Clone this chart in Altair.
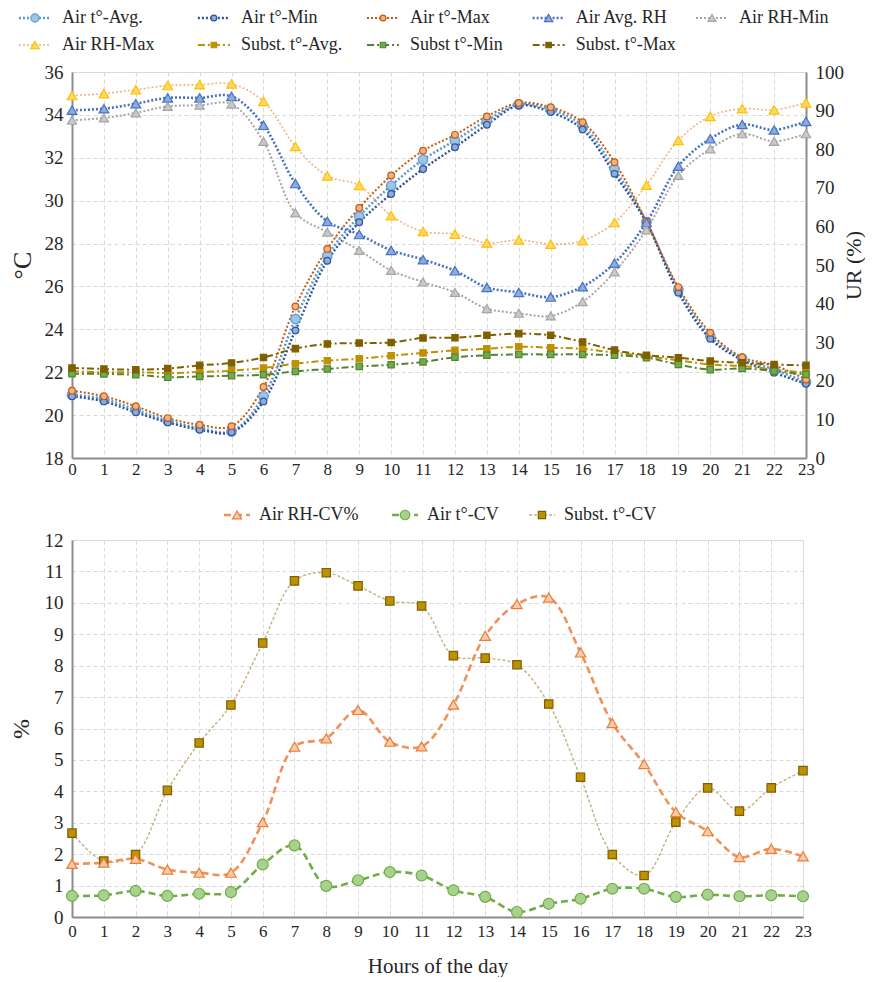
import altair as alt
import pandas as pd

# ---------------- data ----------------
hours = list(range(24))

air_t_avg = [20.95, 20.75, 20.25, 19.74, 19.40, 19.24, 20.88, 24.48, 27.43, 29.27, 30.70, 31.91,
             32.81, 33.74, 34.49, 34.25, 33.50, 31.48, 29.00, 25.84, 23.69, 22.64, 22.13, 21.54]
air_t_min = [20.88, 20.64, 20.13, 19.66, 19.32, 19.20, 20.64, 23.95, 27.20, 28.99, 30.31, 31.48,
             32.49, 33.54, 34.44, 34.13, 33.32, 31.25, 28.98, 25.71, 23.56, 22.57, 21.98, 21.46]
air_t_max = [21.14, 20.88, 20.41, 19.86, 19.55, 19.48, 21.31, 25.07, 27.75, 29.66, 31.17, 32.33,
             33.07, 33.93, 34.56, 34.36, 33.66, 31.79, 29.03, 25.97, 23.84, 22.70, 22.33, 21.66]

air_rh_avg = [90.1, 90.5, 91.8, 93.3, 93.3, 93.7, 86.2, 71.1, 61.3, 57.9, 53.8, 51.4,
              48.5, 44.2, 42.9, 41.7, 44.4, 50.5, 61.0, 75.6, 82.7, 86.4, 85.0, 87.2]
air_rh_min = [87.5, 88.1, 89.4, 91.1, 91.4, 91.7, 82.0, 63.5, 58.5, 53.8, 48.6, 45.6,
              42.9, 38.7, 37.5, 36.8, 40.5, 48.2, 59.1, 73.2, 80.1, 84.0, 82.0, 84.0]
air_rh_max = [93.9, 94.4, 95.4, 96.5, 96.7, 96.9, 92.4, 80.7, 73.1, 70.6, 62.8, 58.7,
              58.0, 55.7, 56.5, 55.4, 56.3, 61.0, 70.7, 82.3, 88.5, 90.5, 90.2, 92.0]

subst_t_avg = [22.04, 22.00, 22.00, 21.96, 22.01, 22.07, 22.20, 22.40, 22.54, 22.63, 22.77, 22.90,
               23.02, 23.09, 23.19, 23.14, 23.09, 22.91, 22.75, 22.55, 22.36, 22.29, 22.12, 21.98]
subst_t_min = [21.93, 21.92, 21.88, 21.77, 21.80, 21.84, 21.88, 22.04, 22.15, 22.27, 22.35, 22.48,
               22.70, 22.79, 22.83, 22.83, 22.83, 22.79, 22.68, 22.36, 22.12, 22.18, 22.05, 21.90]
subst_t_max = [22.20, 22.15, 22.12, 22.17, 22.32, 22.43, 22.69, 23.10, 23.32, 23.36, 23.39, 23.60,
               23.61, 23.72, 23.80, 23.72, 23.41, 23.03, 22.79, 22.68, 22.52, 22.44, 22.36, 22.32]

air_rh_cv = [1.69, 1.73, 1.85, 1.51, 1.41, 1.41, 3.02, 5.42, 5.69, 6.59, 5.58, 5.43,
             6.76, 8.95, 9.96, 10.17, 8.42, 6.17, 4.87, 3.34, 2.73, 1.91, 2.17, 1.93]
air_t_cv = [0.67, 0.69, 0.83, 0.67, 0.74, 0.79, 1.67, 2.28, 0.99, 1.17, 1.43, 1.32,
            0.85, 0.64, 0.16, 0.42, 0.58, 0.90, 0.90, 0.64, 0.71, 0.66, 0.69, 0.66]
subst_t_cv = [2.67, 1.78, 1.99, 4.03, 5.54, 6.75, 8.72, 10.70, 10.96, 10.54, 10.06, 9.90,
              8.32, 8.24, 8.03, 6.78, 4.45, 1.99, 1.32, 3.02, 4.11, 3.37, 4.11, 4.66]

top_temp_labels = ["Air t°-Avg.", "Air t°-Min", "Air t°-Max"]
top_rh_labels = ["Air Avg. RH", "Air RH-Min", "Air RH-Max"]
top_subst_labels = ["Subst. t°-Avg.", "Subst t°-Min", "Subst. t°-Max"]
bottom_labels = ["Air RH-CV%", "Air t°-CV", "Subst. t°-CV"]

temp_ticks = [18, 20, 22, 24, 26, 28, 30, 32, 34, 36]
rh_ticks = [0, 10, 20, 30, 40, 50, 60, 70, 80, 90, 100]
cv_ticks = list(range(0, 13))

# ---------------- styles ----------------
FONT = "Liberation Serif"
GRID = "#D9D9D9"
AXIS = "#8C8C8C"
TXT = "#262626"
TOP_W, TOP_H = 734, 386
BOT_W, BOT_H = 731, 377

DOT = [2, 2]
DASHDOT = [7, 3, 2, 3]
DASH = [7, 4]

STYLE = {
    "Air t°-Avg.": dict(line="#5B9BD5", dash=DOT, width=2.6, shape="circle", fill="#9DC3E6", edge="#5B9BD5", size=90),
    "Air t°-Min": dict(line="#2F5597", dash=DOT, width=2.4, shape="circle", fill="#8FAADC", edge="#2F5597", size=45),
    "Air t°-Max": dict(line="#C55A11", dash=DOT, width=2.0, shape="circle", fill="#F4B183", edge="#C55A11", size=45),
    "Air Avg. RH": dict(line="#4472C4", dash=DOT, width=2.6, shape="triangle-up", fill="#8FAADC", edge="#4472C4", size=95),
    "Air RH-Min": dict(line="#A5A5A5", dash=DOT, width=2.0, shape="triangle-up", fill="#C9C9C9", edge="#A5A5A5", size=85),
    "Air RH-Max": dict(line="#F4B183", dash=DOT, width=1.6, shape="triangle-up", fill="#FFD966", edge="#FFC000", size=95),
    "Subst. t°-Avg.": dict(line="#BF9000", dash=DASHDOT, width=2.0, shape="square", fill="#BF9000", edge="#BF9000", size=40),
    "Subst t°-Min": dict(line="#548235", dash=DASHDOT, width=2.0, shape="square", fill="#70AD47", edge="#548235", size=40),
    "Subst. t°-Max": dict(line="#7F6000", dash=DASHDOT, width=2.0, shape="square", fill="#7F6000", edge="#7F6000", size=40),
    "Air RH-CV%": dict(line="#F0905A", dash=DASH, width=2.6, shape="triangle-up", fill="#F8CBAD", edge="#ED7D31", size=110),
    "Air t°-CV": dict(line="#70AD47", dash=DASH, width=2.6, shape="circle", fill="#A9D18E", edge="#70AD47", size=120),
    "Subst. t°-CV": dict(line="#C4B07A", dash=[3, 2], width=1.4, shape="square", fill="#BF9000", edge="#7F6000", size=70),
}


def frame(values):
    return pd.DataFrame({"hour": hours, "value": values})


def x_enc(axis=None):
    return alt.X("hour:Q", scale=alt.Scale(domain=[0, 23], nice=False, zero=False), axis=axis)


def y_enc(domain, axis=None):
    return alt.Y("value:Q", scale=alt.Scale(domain=domain, nice=False, zero=False), axis=axis)


def series(values, st, domain, x_axis=None, y_axis=None):
    base = alt.Chart(frame(values))
    line = base.mark_line(color=st["line"], strokeDash=st["dash"], strokeWidth=st["width"],
                          interpolate="catmull-rom").encode(x=x_enc(x_axis), y=y_enc(domain, y_axis))
    pts = base.mark_point(shape=st["shape"], filled=True, fill=st["fill"], stroke=st["edge"],
                          strokeWidth=1.2, size=st["size"], opacity=1).encode(x=x_enc(), y=y_enc(domain))
    return line, pts


def legend(labels, ncols, slot_range, row_range, seg, gap, fsize, exponent=1.0):
    layers = []
    for i, lab in enumerate(labels):
        st = STYLE[lab]
        df = pd.DataFrame({"slot": [i % ncols], "row": [i // ncols], "label": [lab]})
        base = alt.Chart(df)
        xs = alt.X("slot:Q", scale=alt.Scale(type="pow", exponent=exponent, domain=[0, ncols - 1],
                                             range=slot_range, nice=False, zero=False), axis=None)
        ys = alt.Y("row:Q", scale=alt.Scale(domain=[0, 1], range=row_range, nice=False, zero=False), axis=None)
        layers.append(base.mark_rule(color=st["line"], strokeDash=st["dash"], strokeWidth=st["width"],
                                     xOffset=-seg, x2Offset=seg).encode(x=xs, x2=alt.X2("slot:Q"), y=ys))
        layers.append(base.mark_point(shape=st["shape"], filled=True, fill=st["fill"], stroke=st["edge"],
                                      strokeWidth=1.2, size=st["size"] * 0.75, opacity=1).encode(x=xs, y=ys))
        layers.append(base.mark_text(align="left", baseline="middle", dx=gap, font=FONT, fontSize=fsize,
                                     color=TXT).encode(x=xs, y=ys, text="label:N"))
    return layers


def x_axis(title=None, pad=4):
    kw = dict(values=hours, grid=True, gridDash=[4, 3], gridColor=GRID, ticks=False, domainColor=AXIS,
              domainWidth=2, labelFont=FONT, labelFontSize=17, labelColor=TXT, labelPadding=pad,
              labelFlush=False, labelOverlap=False)
    if title:
        return alt.Axis(title=title, titleFont=FONT, titleFontSize=21, titleFontWeight="normal",
                        titleColor=TXT, titlePadding=16, **kw)
    return alt.Axis(title=None, **kw)


def y_axis(values, title, orient, grid, title_angle, title_size, title_pad):
    return alt.Axis(values=values, orient=orient, grid=grid, gridDash=[4, 3], gridColor=GRID, ticks=False,
                    domainColor=AXIS, domainWidth=2, labelFont=FONT, labelFontSize=19, labelColor=TXT,
                    labelPadding=9, title=title, titleFont=FONT, titleFontSize=title_size,
                    titleFontWeight="normal", titleColor=TXT, titleAngle=title_angle, titlePadding=title_pad)


# ---------------- top panel ----------------
lines, points = [], []
temp_sets = [(air_t_avg, "Air t°-Avg."), (air_t_min, "Air t°-Min"), (air_t_max, "Air t°-Max")]
rh_sets = [(air_rh_avg, "Air Avg. RH"), (air_rh_min, "Air RH-Min"), (air_rh_max, "Air RH-Max")]
sub_sets = [(subst_t_avg, "Subst. t°-Avg."), (subst_t_min, "Subst t°-Min"), (subst_t_max, "Subst. t°-Max")]

first = True
for vals, lab in temp_sets + sub_sets:
    if first:
        l, p = series(vals, STYLE[lab], [18, 36], x_axis(pad=3),
                      y_axis(temp_ticks, "°C", "left", True, 270, 26, 9))
        first = False
    else:
        l, p = series(vals, STYLE[lab], [18, 36])
    lines.append(l)
    points.append(p)

first = True
for vals, lab in rh_sets:
    if first:
        l, p = series(vals, STYLE[lab], [0, 100], None,
                      y_axis(rh_ticks, "UR (%)", "right", False, 270, 22, 22))
        first = False
    else:
        l, p = series(vals, STYLE[lab], [0, 100])
    lines.append(l)
    points.append(p)

top_legend = legend(top_temp_labels + top_rh_labels + top_subst_labels, 5,
                    [-37, 640], [-54, -27], 16, 27, 18, exponent=0.96)

top = alt.layer(*lines, *points, *top_legend).resolve_scale(
    x="independent", y="independent").properties(width=TOP_W, height=TOP_H)

# ---------------- bottom panel ----------------
b_lines, b_points = [], []
bot_sets = [(air_rh_cv, "Air RH-CV%"), (air_t_cv, "Air t°-CV"), (subst_t_cv, "Subst. t°-CV")]
first = True
for vals, lab in reversed(bot_sets):
    if first:
        l, p = series(vals, STYLE[lab], [0, 12], x_axis("Hours of the day", pad=6),
                      y_axis(cv_ticks, "%", "left", True, 270, 24, 11))
        first = False
    else:
        l, p = series(vals, STYLE[lab], [0, 12])
    b_lines.append(l)
    b_points.append(p)

bot_legend = legend(bottom_labels, 3, [165, 470], [-25, 0], 13, 22, 18, exponent=0.86)

bottom = alt.layer(*b_lines, *b_points, *bot_legend).resolve_scale(
    x="independent", y="independent").properties(width=BOT_W, height=BOT_H)

chart = alt.vconcat(top, bottom, spacing=27).properties(padding=0).configure_view(
    stroke=None).configure(font=FONT)

chart.save("out.html", embed_options={"renderer": "svg", "actions": False})
